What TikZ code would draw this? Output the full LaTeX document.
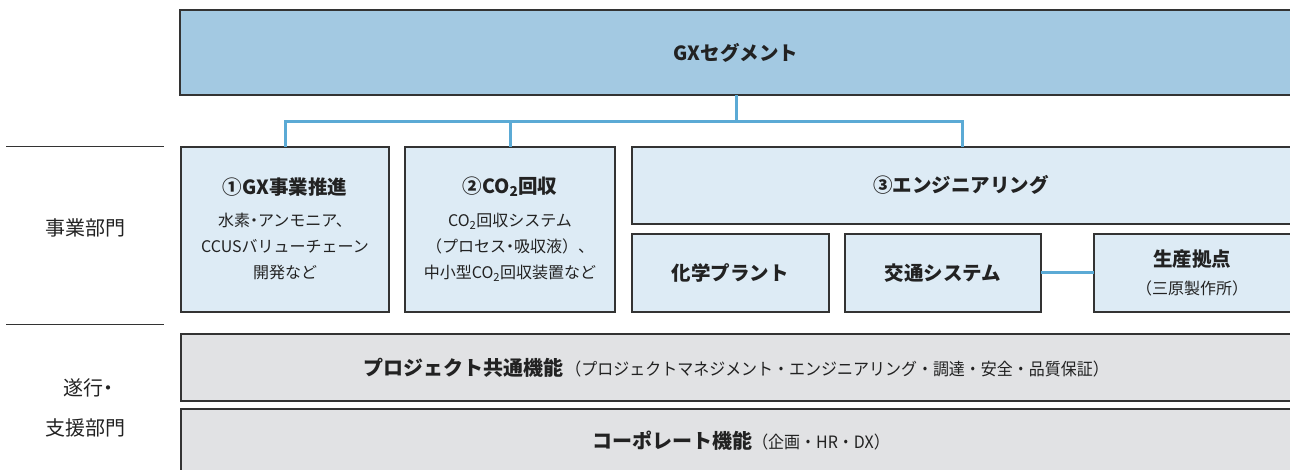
\documentclass[tikz,border=0pt]{standalone}
\usepackage{fontspec}
\usepackage{graphicx}
\setmainfont{Noto Sans CJK JP}
\newcommand{\nakaguro}{{\addfontfeature{RawFeature=+palt}・}}
\definecolor{gxblue}{HTML}{A3C9E2}
\definecolor{lightbox}{HTML}{DDEBF5}
\definecolor{graybox}{HTML}{E1E2E4}
\definecolor{conn}{HTML}{5BAAD5}
\definecolor{edge}{HTML}{333333}
\definecolor{txt}{HTML}{222222}
\tikzset{
  box/.style={draw=edge, line width=1.1pt, anchor=north west, inner sep=0pt, outer sep=0pt},
  bluebox/.style={box, fill=lightbox},
  greybox/.style={box, fill=graybox},
  link/.style={draw=conn, line width=3pt},
  sep/.style={draw=edge, line width=1pt},
  title/.style={font=\fontsize{19.5}{22}\selectfont\bfseries, text=txt},
  body/.style={font=\fontsize{16}{26}\selectfont, text=txt, align=center},
  side/.style={font=\fontsize{20}{40}\selectfont, text=txt, align=center}
}
\begin{document}
\begin{tikzpicture}[x=1pt,y=-1pt]
\useasboundingbox (0,0) rectangle (1290,470);
\clip (0,0) rectangle (1290,470);
% top segment
\node[box, fill=gxblue, minimum width=1120pt, minimum height=85pt] (gx) at (180,10) {};
\node[title] at (736,53) {GXセグメント};
% business boxes
\node[bluebox, minimum width=208pt, minimum height=165pt] (b1) at (181,147) {};
\node[bluebox, minimum width=210pt, minimum height=165pt] (b2) at (405,147) {};
\node[bluebox, minimum width=670pt, minimum height=77pt] (b3) at (632,147) {};
\node[bluebox, minimum width=197pt, minimum height=78pt] (s1) at (632,234) {};
\node[bluebox, minimum width=196pt, minimum height=78pt] (s2) at (845,234) {};
\node[bluebox, minimum width=208pt, minimum height=78pt] (s3) at (1094,234) {};
% connectors
\coordinate (j) at (736,122);
\draw[link] (gx.south -| j) -- (j);
\draw[link] (b1.north) |- (j) -| (b3.north -| 962,0);
\draw[link] (b2.north) -- (b2.north |- j);
\draw[link] (s2.east) -- (s3.west);
% texts
\node[title] at (285,187) {①GX事業推進};
\node[body, anchor=north] at (285,210) {水素\nakaguro アンモニア、\\CCUSバリューチェーン\\開発など};
\node[title] at (510,187) {②CO\textsubscript{2}回収};
\node[body, anchor=north] at (510,210) {CO\textsubscript{2}回収システム\\（プロセス\nakaguro 吸収液）、\\中小型CO\textsubscript{2}回収装置など};
\node[title] at (961,185) {③エンジニアリング};
\node[title] at (730,273) {化学プラント};
\node[title] at (943,273) {交通システム};
\node[title] at (1192,259) {生産拠点};
\node[body] at (1192,288) {（三原製作所）};
% support boxes
\node[greybox, minimum width=1120pt, minimum height=67pt] (p1) at (181,334) {};
\node[greybox, minimum width=1120pt, minimum height=80pt] (p2) at (181,409) {};
\node[text=txt, inner sep=0pt] at (736,368) {{\fontsize{20}{24}\selectfont\bfseries プロジェクト共通機能} \scalebox{0.94}[1]{\fontsize{17}{20}\selectfont（プロジェクトマネジメント・エンジニアリング・調達・安全・品質保証）}};
\node[text=txt, inner sep=0pt] at (741,441) {{\fontsize{20}{24}\selectfont\bfseries コーポレート機能}\scalebox{0.94}[1]{\fontsize{17}{20}\selectfont（企画・HR・DX）}};
% side labels
\coordinate (l1a) at (6,147); \coordinate (l1b) at (164,147);
\coordinate (l2a) at (6,324); \coordinate (l2b) at (164,324);
\draw[sep] (l1a) -- (l1b);
\draw[sep] (l2a) -- (l2b);
\node[side] at (85,228) {事業部門};
\node[side] at (85,408) {\hspace*{6pt}遂行\nakaguro\\支援部門};
\end{tikzpicture}
\end{document}
